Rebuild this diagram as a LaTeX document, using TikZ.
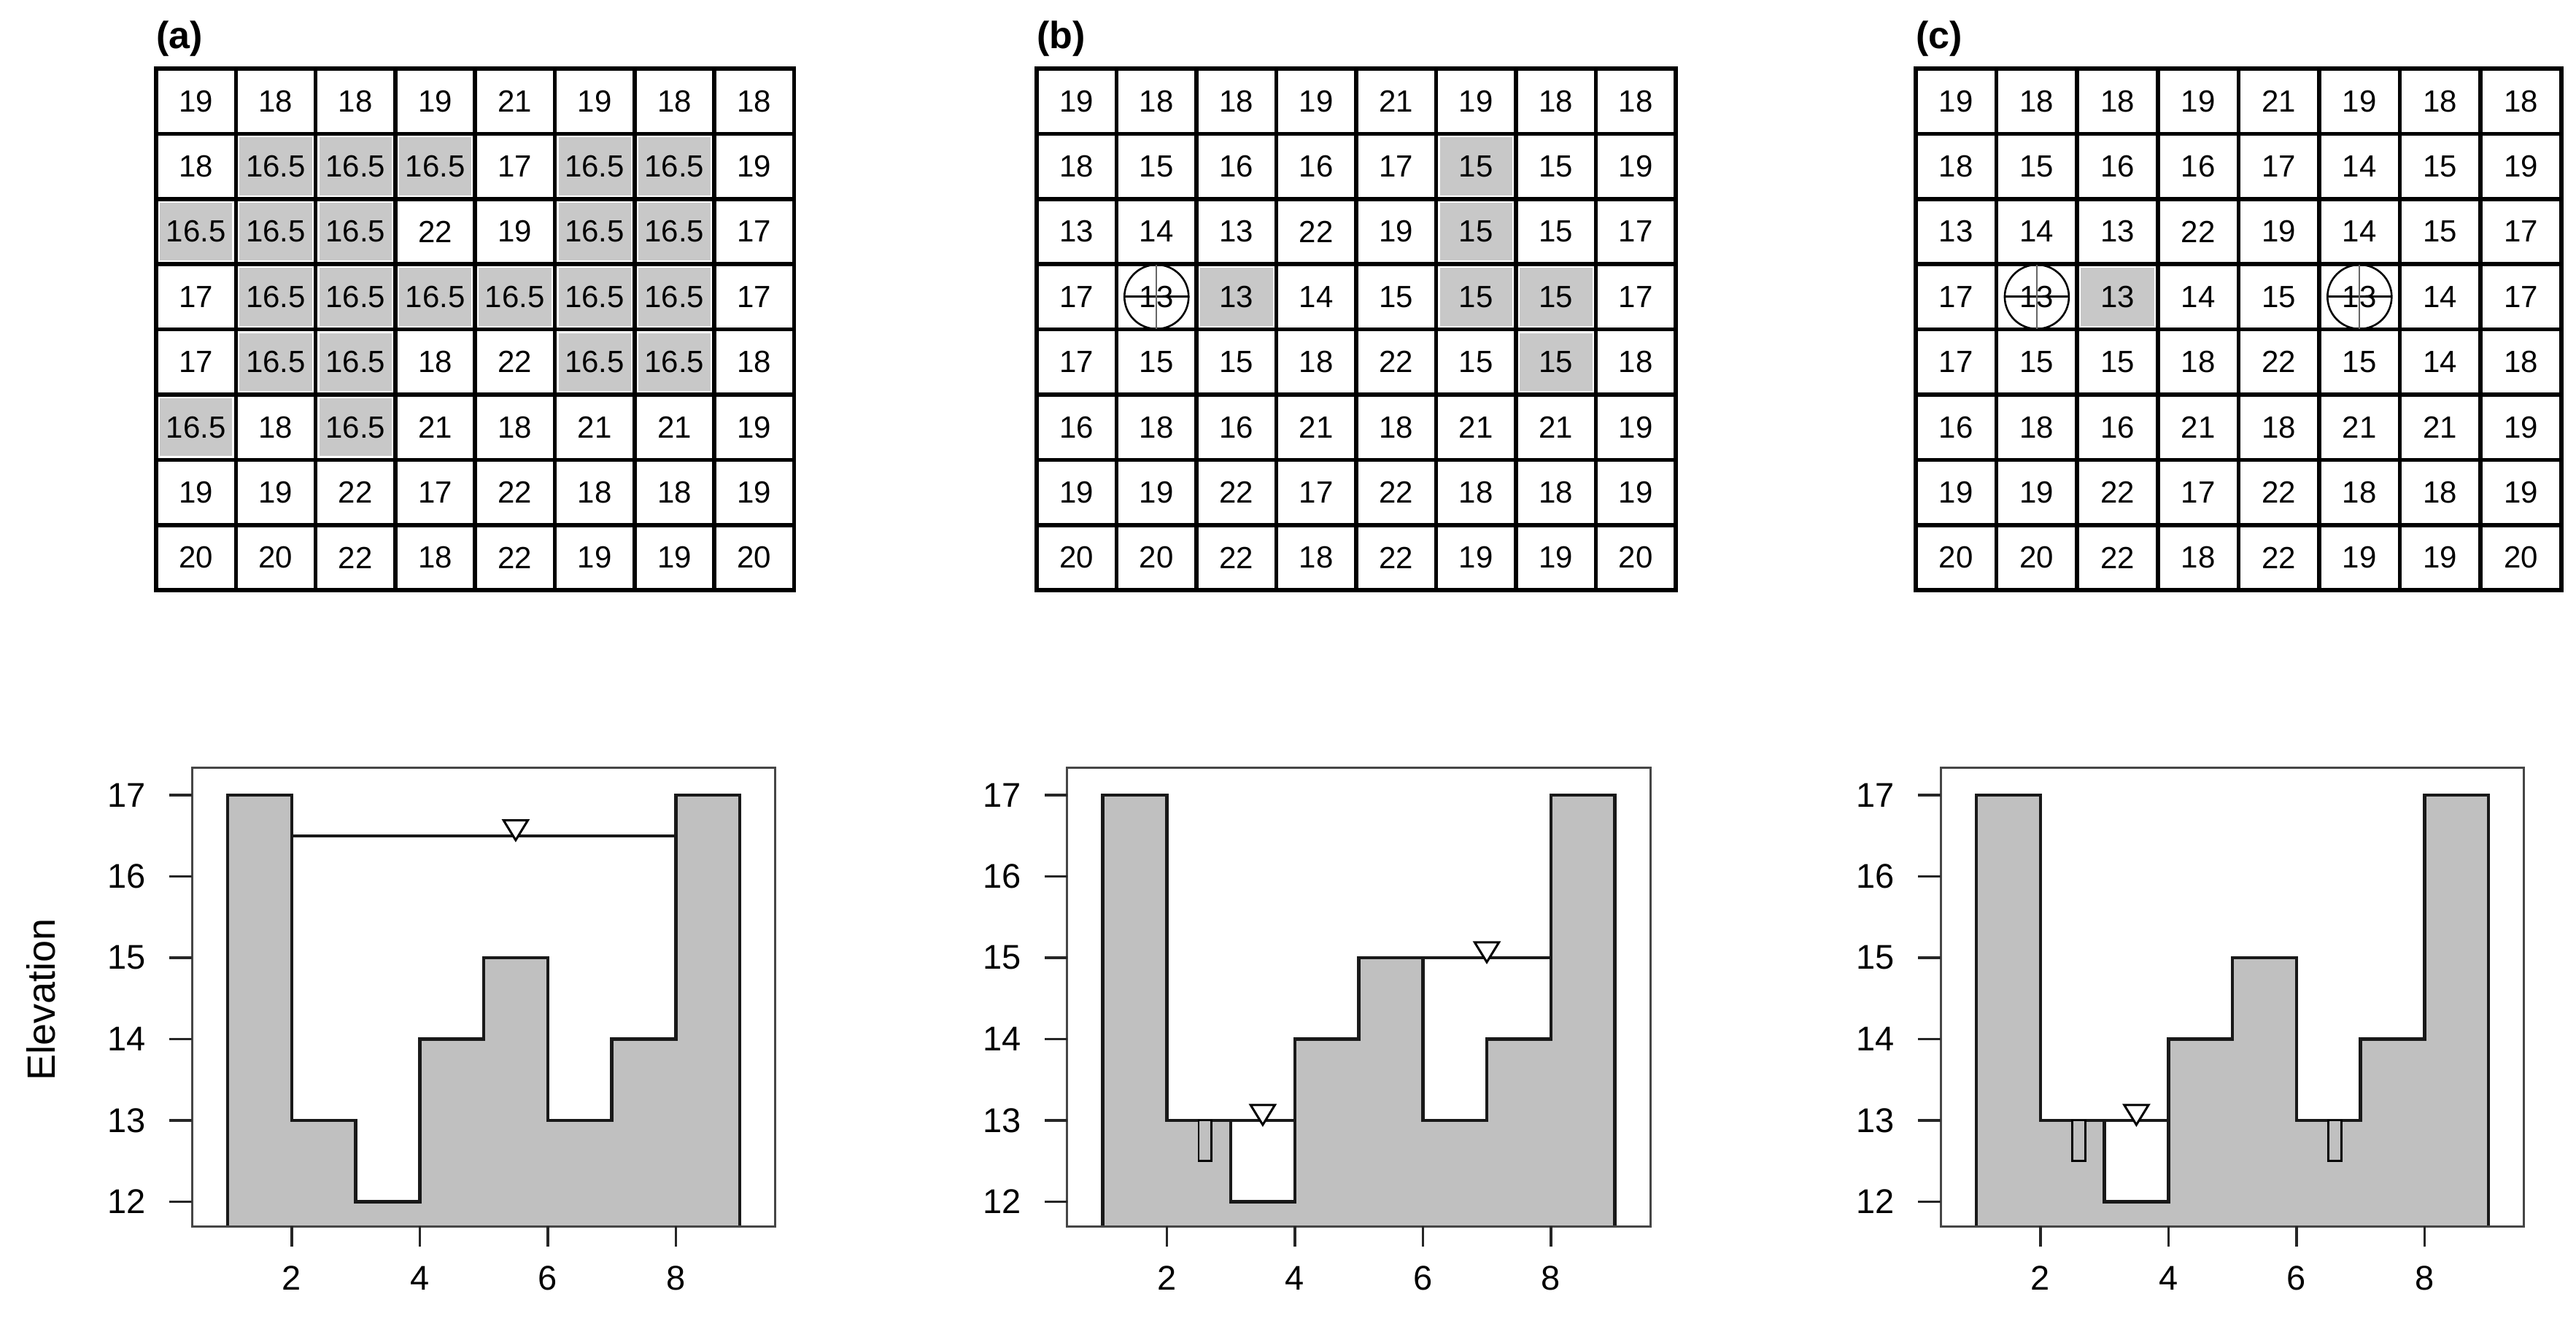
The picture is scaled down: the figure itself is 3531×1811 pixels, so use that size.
\documentclass[tikz,border=0pt]{standalone}
\usepackage{fontspec}
\setmainfont{Liberation Sans}
\definecolor{cellgray}{RGB}{200,200,200}
\definecolor{bargray}{RGB}{192,192,192}
\definecolor{boxgray}{RGB}{70,70,70}
\tikzset{
  num/.style={font=\fontsize{42}{48}\selectfont, inner sep=0pt, anchor=center},
  gridline/.style={line width=5.5pt, black, line cap=rect},
  paneltag/.style={font=\fontsize{52}{60}\selectfont\bfseries, inner sep=0pt, anchor=base west},
  wellcirc/.style={line width=2.6pt, black},
  wellh/.style={line width=3pt, black},
  wellv/.style={line width=2pt, black!60},
  profile/.style={line width=4.5pt, black!90, line join=miter},
  plotbox/.style={line width=3pt, boxgray},
  tickline/.style={line width=3.5pt, black!85},
  ticklab/.style={font=\fontsize{47}{54}\selectfont, inner sep=0pt},
  waterline/.style={line width=4pt, black!90},
  wellrect/.style={line width=2.6pt, black, fill=bargray},
  tri/.style={line width=3pt, black, fill=white, line join=miter}
}
% #1 left, #2 cell width, #3 prefix, #4 rows, #5 shaded row/col pairs
\newcommand{\drawgrid}[5]{%
  \foreach \rr/\cc in {#5} {
    \fill[cellgray] ({#1+(\cc-1)*#2+5},{94+(\rr-1)*89.4+5}) rectangle ({#1+\cc*#2-5},{94+\rr*89.4-5});
  }
  \foreach \row [count=\r] in {#4} {
    \foreach \v [count=\c] in \row {
      \node[num] (#3-\r-\c) at ({#1+(\c-0.5)*#2},{94+(\r-0.5)*89.4}) {\v};
    }
  }
  \foreach \k in {0,...,8} {
    \draw[gridline] ({#1+\k*#2},94) -- ({#1+\k*#2},809.2);
    \draw[gridline] (#1,{94+\k*89.4}) -- ({#1+8*#2},{94+\k*89.4});
  }
}
% well symbol on a named cell node
\newcommand{\wellsym}[1]{%
  \draw[wellcirc] (#1.center) circle[radius=44pt];
  \draw[wellh] ([xshift=-44pt]#1.center) -- ([xshift=44pt]#1.center);
  \draw[wellv] ([yshift=-44pt]#1.center) -- ([yshift=44pt]#1.center);
}
\newcommand{\wtri}[2]{%
  \draw[tri] ({#1-0.19},{#2+0.19}) -- ({#1+0.19},{#2+0.19}) -- (#1,{#2-0.054}) -- cycle;
}
% #1 x shift (pt), #2 prefix, #3 extras
\newcommand{\profileplot}[3]{%
  \begin{scope}[shift={(#1pt,-2985.5pt)}, x=87.75pt, y=111.5pt]
    \fill[bargray] (1,11.699) -- (1,17) -- (2,17) -- (2,13) -- (3,13) -- (3,12) -- (4,12) -- (4,14) -- (5,14) -- (5,15) -- (6,15) -- (6,13) -- (7,13) -- (7,14) -- (8,14) -- (8,17) -- (9,17) -- (9,11.699) -- cycle;
    \draw[profile] (1,11.699) -- (1,17) -- (2,17) -- (2,13) -- (3,13) -- (3,12) -- (4,12) -- (4,14) -- (5,14) -- (5,15) -- (6,15) -- (6,13) -- (7,13) -- (7,14) -- (8,14) -- (8,17) -- (9,17) -- (9,11.699);
    #3
    \draw[plotbox] (0.4416,11.699) rectangle (9.553,17.332);
    \foreach \t in {12,...,17} {
      \draw[tickline] (0.4416,\t) -- (0.0886,\t);
      \node[ticklab, anchor=east] (#2-y\t) at (-0.276,\t) {\t};
    }
    \foreach \t in {2,4,6,8} {
      \draw[tickline] (\t,11.699) -- (\t,11.448);
      \node[ticklab] (#2-x\t) at (\t,11.063) {\t};
    }
  \end{scope}
}
\begin{document}
\begin{tikzpicture}[x=1pt,y=-1pt]
\useasboundingbox (0,0) rectangle (3531,1811);
\fill[white] (0,0) rectangle (3531,1811);

% ---------- panel labels ----------
\node[paneltag] (tag-a) at (214,67) {(a)};
\node[paneltag] (tag-b) at (1421,67) {(b)};
\node[paneltag] (tag-c) at (2626,67) {(c)};

% ---------- grid (a) ----------
\drawgrid{214}{109.3}{ga}{
  {19,18,18,19,21,19,18,18},
  {18,16.5,16.5,16.5,17,16.5,16.5,19},
  {16.5,16.5,16.5,22,19,16.5,16.5,17},
  {17,16.5,16.5,16.5,16.5,16.5,16.5,17},
  {17,16.5,16.5,18,22,16.5,16.5,18},
  {16.5,18,16.5,21,18,21,21,19},
  {19,19,22,17,22,18,18,19},
  {20,20,22,18,22,19,19,20}}{2/2,2/3,2/4,2/6,2/7,3/1,3/2,3/3,3/6,3/7,4/2,4/3,4/4,4/5,4/6,4/7,5/2,5/3,5/6,5/7,6/1,6/3}

% ---------- grid (b) ----------
\drawgrid{1421}{109.5}{gb}{
  {19,18,18,19,21,19,18,18},
  {18,15,16,16,17,15,15,19},
  {13,14,13,22,19,15,15,17},
  {17,13,13,14,15,15,15,17},
  {17,15,15,18,22,15,15,18},
  {16,18,16,21,18,21,21,19},
  {19,19,22,17,22,18,18,19},
  {20,20,22,18,22,19,19,20}}{2/6,3/6,4/3,4/6,4/7,5/7}
\wellsym{gb-4-2}

% ---------- grid (c) ----------
\drawgrid{2626}{110.6}{gc}{
  {19,18,18,19,21,19,18,18},
  {18,15,16,16,17,14,15,19},
  {13,14,13,22,19,14,15,17},
  {17,13,13,14,15,13,14,17},
  {17,15,15,18,22,15,14,18},
  {16,18,16,21,18,21,21,19},
  {19,19,22,17,22,18,18,19},
  {20,20,22,18,22,19,19,20}}{4/3}
\wellsym{gc-4-2}
\wellsym{gc-4-6}

% ---------- profile plots ----------
\profileplot{224.25}{pa}{
  \draw[waterline] (2,16.5) -- (8,16.5);
  \wtri{5.5}{16.5}
}
\profileplot{1423.75}{pb}{
  \draw[waterline] (2,13) -- (4,13);
  \draw[waterline] (6,15) -- (8,15);
  \draw[wellrect] (2.5,12.5) rectangle (2.7,13);
  \wtri{3.5}{13}
  \wtri{7}{15}
}
\profileplot{2621.25}{pc}{
  \draw[waterline] (2,13) -- (4,13);
  \draw[wellrect] (2.5,12.5) rectangle (2.7,13);
  \draw[wellrect] (6.5,12.5) rectangle (6.7,13);
  \wtri{3.5}{13}
}

\node[font=\fontsize{54}{60}\selectfont, rotate=90, inner sep=0pt] (elev) at (56,1370) {Elevation};
\end{tikzpicture}
\end{document}
